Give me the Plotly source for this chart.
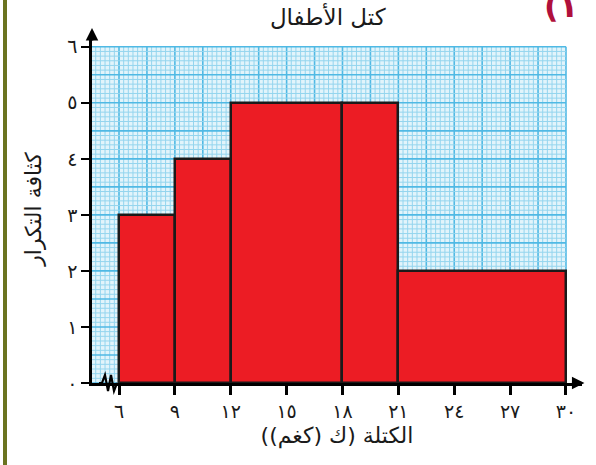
import numpy as np
import plotly.graph_objects as go

# Données de l'histogramme (classes de masse, densité de fréquence)
bornes_gauche = [6, 9, 12, 18, 21]
bornes_droite = [9, 12, 18, 21, 30]
densites = [3, 4, 5, 5, 2]

x_ticks = [6, 9, 12, 15, 18, 21, 24, 27, 30]
x_labels = ['٦', '٩', '١٢', '١٥', '١٨', '٢١', '٢٤', '٢٧', '٣٠']
y_ticks = [0, 1, 2, 3, 4, 5, 6]
y_labels = ['٠', '١', '٢', '٣', '٤', '٥', '٦']

titre = 'كتل الأطفال'
titre_x = '\u200fالكتلة (ك (كغم))\u200f'
titre_y = 'كثافة التكرار'

FONT = 'DejaVu Sans'
W, H = 596, 465
ML, MR, MT, MB = 92, 14, 35, 82
x_min, x_max = 4.55, 30.86
y_min, y_max = 0, 6.21
pw = W - ML - MR
ph = H - MT - MB

def px_x(px):
    # pixel horizontal -> fraction du papier
    return (px - ML) / pw

def px_y(py):
    # pixel vertical (depuis le haut) -> fraction du papier
    return (H - MB - py) / ph

milieux = [(a + b) / 2 for a, b in zip(bornes_gauche, bornes_droite)]
largeurs = [b - a for a, b in zip(bornes_gauche, bornes_droite)]

fig = go.Figure()
fig.add_trace(go.Bar(
    x=milieux, y=densites, width=largeurs,
    marker=dict(color='#ec1c24', line=dict(color='#1a1a1a', width=2.5)),
    hoverinfo='skip'
))

# Papier millimétré en fond
shapes = [dict(type='rect', xref='x', yref='y', x0=x_min, x1=30, y0=0, y1=6,
               fillcolor='#e2f4fb', line=dict(width=0), layer='below')]
for i, xv in enumerate(np.arange(30, x_min, -0.25)):
    major = i % 6 == 0
    shapes.append(dict(type='line', xref='x', yref='y', x0=xv, x1=xv, y0=0, y1=6, layer='below',
                       line=dict(color='#4fb9e4' if major else '#94d5ee', width=1.6 if major else 1)))
for i, yv in enumerate(np.arange(0, 6.001, 1 / 12)):
    major = i % 6 == 0
    shapes.append(dict(type='line', xref='x', yref='y', x0=x_min, x1=30, y0=yv, y1=yv, layer='below',
                       line=dict(color='#4fb9e4' if major else '#94d5ee', width=1.6 if major else 1)))

# Zigzag de coupure sur l'axe des x (en pixels, hors zone de tracé)
zx = [99, 102, 105, 108, 111, 114, 117]
zy = [383, 383, 375, 391, 375, 391, 383]
shapes.append(dict(type='path', xref='paper', yref='paper',
                   path='M ' + ' L '.join(f'{px_x(a):.4f},{px_y(b):.4f}' for a, b in zip(zx, zy)),
                   line=dict(color='black', width=2.2)))

# Bordure gauche
shapes.append(dict(type='line', xref='paper', yref='paper', x0=px_x(5), x1=px_x(5),
                   y0=px_y(H + 5), y1=px_y(-5), line=dict(color='#6b7320', width=4)))
fig.update_layout(shapes=shapes)

fig.update_layout(
    width=W, height=H,
    margin=dict(l=ML, r=MR, t=MT, b=MB, autoexpand=False),
    paper_bgcolor='white', plot_bgcolor='white',
    showlegend=False,
    bargap=0,
    font=dict(family=FONT, color='#1a1a1a'),
    title=dict(text=titre, x=0.55, xanchor='center', y=1 - 9 / H, yanchor='top',
               font=dict(size=23, family=FONT, color='#1a1a1a')),
    xaxis=dict(range=[x_min, x_max], tickvals=x_ticks, ticktext=x_labels, automargin=False,
               showgrid=False, zeroline=False, showline=True, linecolor='black', linewidth=2.5,
               ticks='outside', ticklen=9, tickwidth=2.5, tickcolor='black',
               tickfont=dict(size=19, family=FONT),
               title=dict(text=titre_x, font=dict(size=22, family=FONT), standoff=8)),
    yaxis=dict(range=[y_min, y_max], tickvals=y_ticks, ticktext=y_labels, automargin=False,
               showgrid=False, zeroline=False, showline=True, linecolor='black', linewidth=2.5,
               ticks='outside', ticklen=8, tickwidth=2.2, tickcolor='black',
               tickfont=dict(size=19, family=FONT),
               title=dict(text=titre_y, font=dict(size=22, family=FONT), standoff=20)),
)

# Flèches des axes
fig.add_annotation(x=1.005, xref='paper', y=0, yref='y', ax=-14, ay=0, text='',
                   showarrow=True, arrowhead=2, arrowsize=1, arrowwidth=2.5, arrowcolor='black')
fig.add_annotation(x=x_min, xref='x', y=1.02, yref='paper', ax=0, ay=14, text='',
                   showarrow=True, arrowhead=2, arrowsize=1, arrowwidth=2.5, arrowcolor='black')

# Numéro de l'exercice (coupé en haut)
fig.add_annotation(x=px_x(561), xref='paper', y=px_y(6), yref='paper',
                   text='<b>(١</b>', showarrow=False, xanchor='center', yanchor='middle',
                   font=dict(size=32, family=FONT, color='#b0103c'))

fig.write_html('out.html', config={'displayModeBar': False},
               post_script="document.body.style.margin='0';")
